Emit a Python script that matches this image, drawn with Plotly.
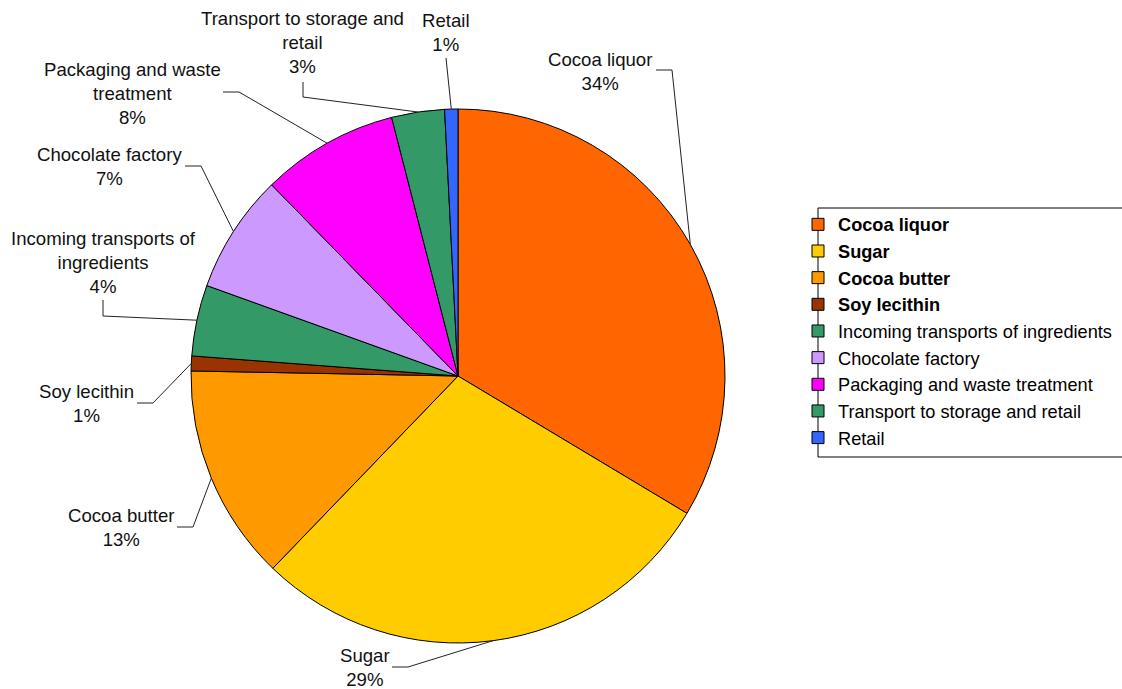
import math
import plotly.graph_objects as go

W, H = 1122, 689

categories = ["Cocoa liquor", "Sugar", "Cocoa butter", "Soy lecithin",
              "Incoming transports of ingredients", "Chocolate factory",
              "Packaging and waste treatment", "Transport to storage and retail", "Retail"]
values = [33.6, 28.6, 13.1, 0.9, 4.3, 7.2, 8.3, 3.2, 0.8]
ingredients = ["Cocoa liquor", "Sugar", "Cocoa butter", "Soy lecithin"]
colors = ["#FF6600", "#FFCC00", "#FF9900", "#993300", "#339966",
          "#CC99FF", "#FF00FF", "#339966", "#3366FF"]
wrapped_labels = ["Cocoa liquor", "Sugar", "Cocoa butter", "Soy lecithin",
                  "Incoming transports of<br>ingredients", "Chocolate factory",
                  "Packaging and waste<br>treatment", "Transport to storage and<br>retail", "Retail"]

# layout of labels (pixel positions): text center, leader start, leader elbow
label_pos = [(600, 71), (365, 667), (121, 527), (86, 403), (103, 262),
             (109, 166), (132, 93), (302, 42), (446, 32)]
leader_start = [(656, 70), (392, 667), (177, 527), (137, 403), (103, 300),
                (185, 166), (223, 92), (303, 82), (446, 58)]
leader_elbow = [(672, 70), (408, 667), (193, 527), (153, 403), (103, 316),
                (201, 166), (239, 92), (303, 97), (446, 58)]

CX, CY, R = 458, 376, 267
FONT = "Liberation Sans, Arial, sans-serif"
FS = 18.6
LEG_FS = 18.2


def px(x):
    return x / W


def py(y):
    return 1 - y / H


legend_labels = [f"<b>{c}</b>" if c in ingredients else c for c in categories]

fig = go.Figure(go.Pie(
    labels=legend_labels,
    values=values,
    sort=False,
    direction="clockwise",
    rotation=0,
    marker=dict(colors=colors, line=dict(color="black", width=1)),
    textinfo="none",
    hoverinfo="label+percent",
    domain=dict(x=[px(CX - R), px(CX + R)], y=[py(CY + R), py(CY - R)]),
))

total = sum(values)
cum = 0.0
annotations = []
shapes = []
for i, v in enumerate(values):
    mid = (cum + v / 2) / total * 2 * math.pi
    cum += v
    ex = CX + R * math.sin(mid)
    ey = CY - R * math.cos(mid)
    pct = round(v / total * 100)
    lx, ly = label_pos[i]
    annotations.append(dict(
        x=px(lx), y=py(ly), xref="paper", yref="paper",
        text=f"{wrapped_labels[i]}<br>{pct}%", showarrow=False,
        xanchor="center", yanchor="middle", align="center",
        font=dict(family=FONT, size=FS, color="#111111"),
    ))
    sx, sy = leader_start[i]
    bx, by = leader_elbow[i]
    shapes.append(dict(
        type="path", xref="paper", yref="paper",
        path=f"M {px(sx)},{py(sy)} L {px(bx)},{py(by)} L {px(ex)},{py(ey)}",
        line=dict(color="#222222", width=1),
    ))

# legend frame
shapes.append(dict(type="rect", xref="paper", yref="paper",
                   x0=px(818), x1=px(1130), y0=py(457), y1=py(208),
                   line=dict(color="black", width=1), fillcolor="rgba(0,0,0,0)"))

fig.update_layout(
    width=W, height=H, autosize=False,
    margin=dict(l=0, r=0, t=0, b=0),
    paper_bgcolor="white", plot_bgcolor="white",
    showlegend=True,
    legend=dict(x=px(798), y=py(206), xanchor="left", yanchor="top",
                font=dict(family=FONT, size=LEG_FS, color="black"),
                bgcolor="rgba(0,0,0,0)", borderwidth=0, traceorder="normal"),
    annotations=annotations,
    shapes=shapes,
    font=dict(family=FONT),
)

fig.write_html("out.html")
